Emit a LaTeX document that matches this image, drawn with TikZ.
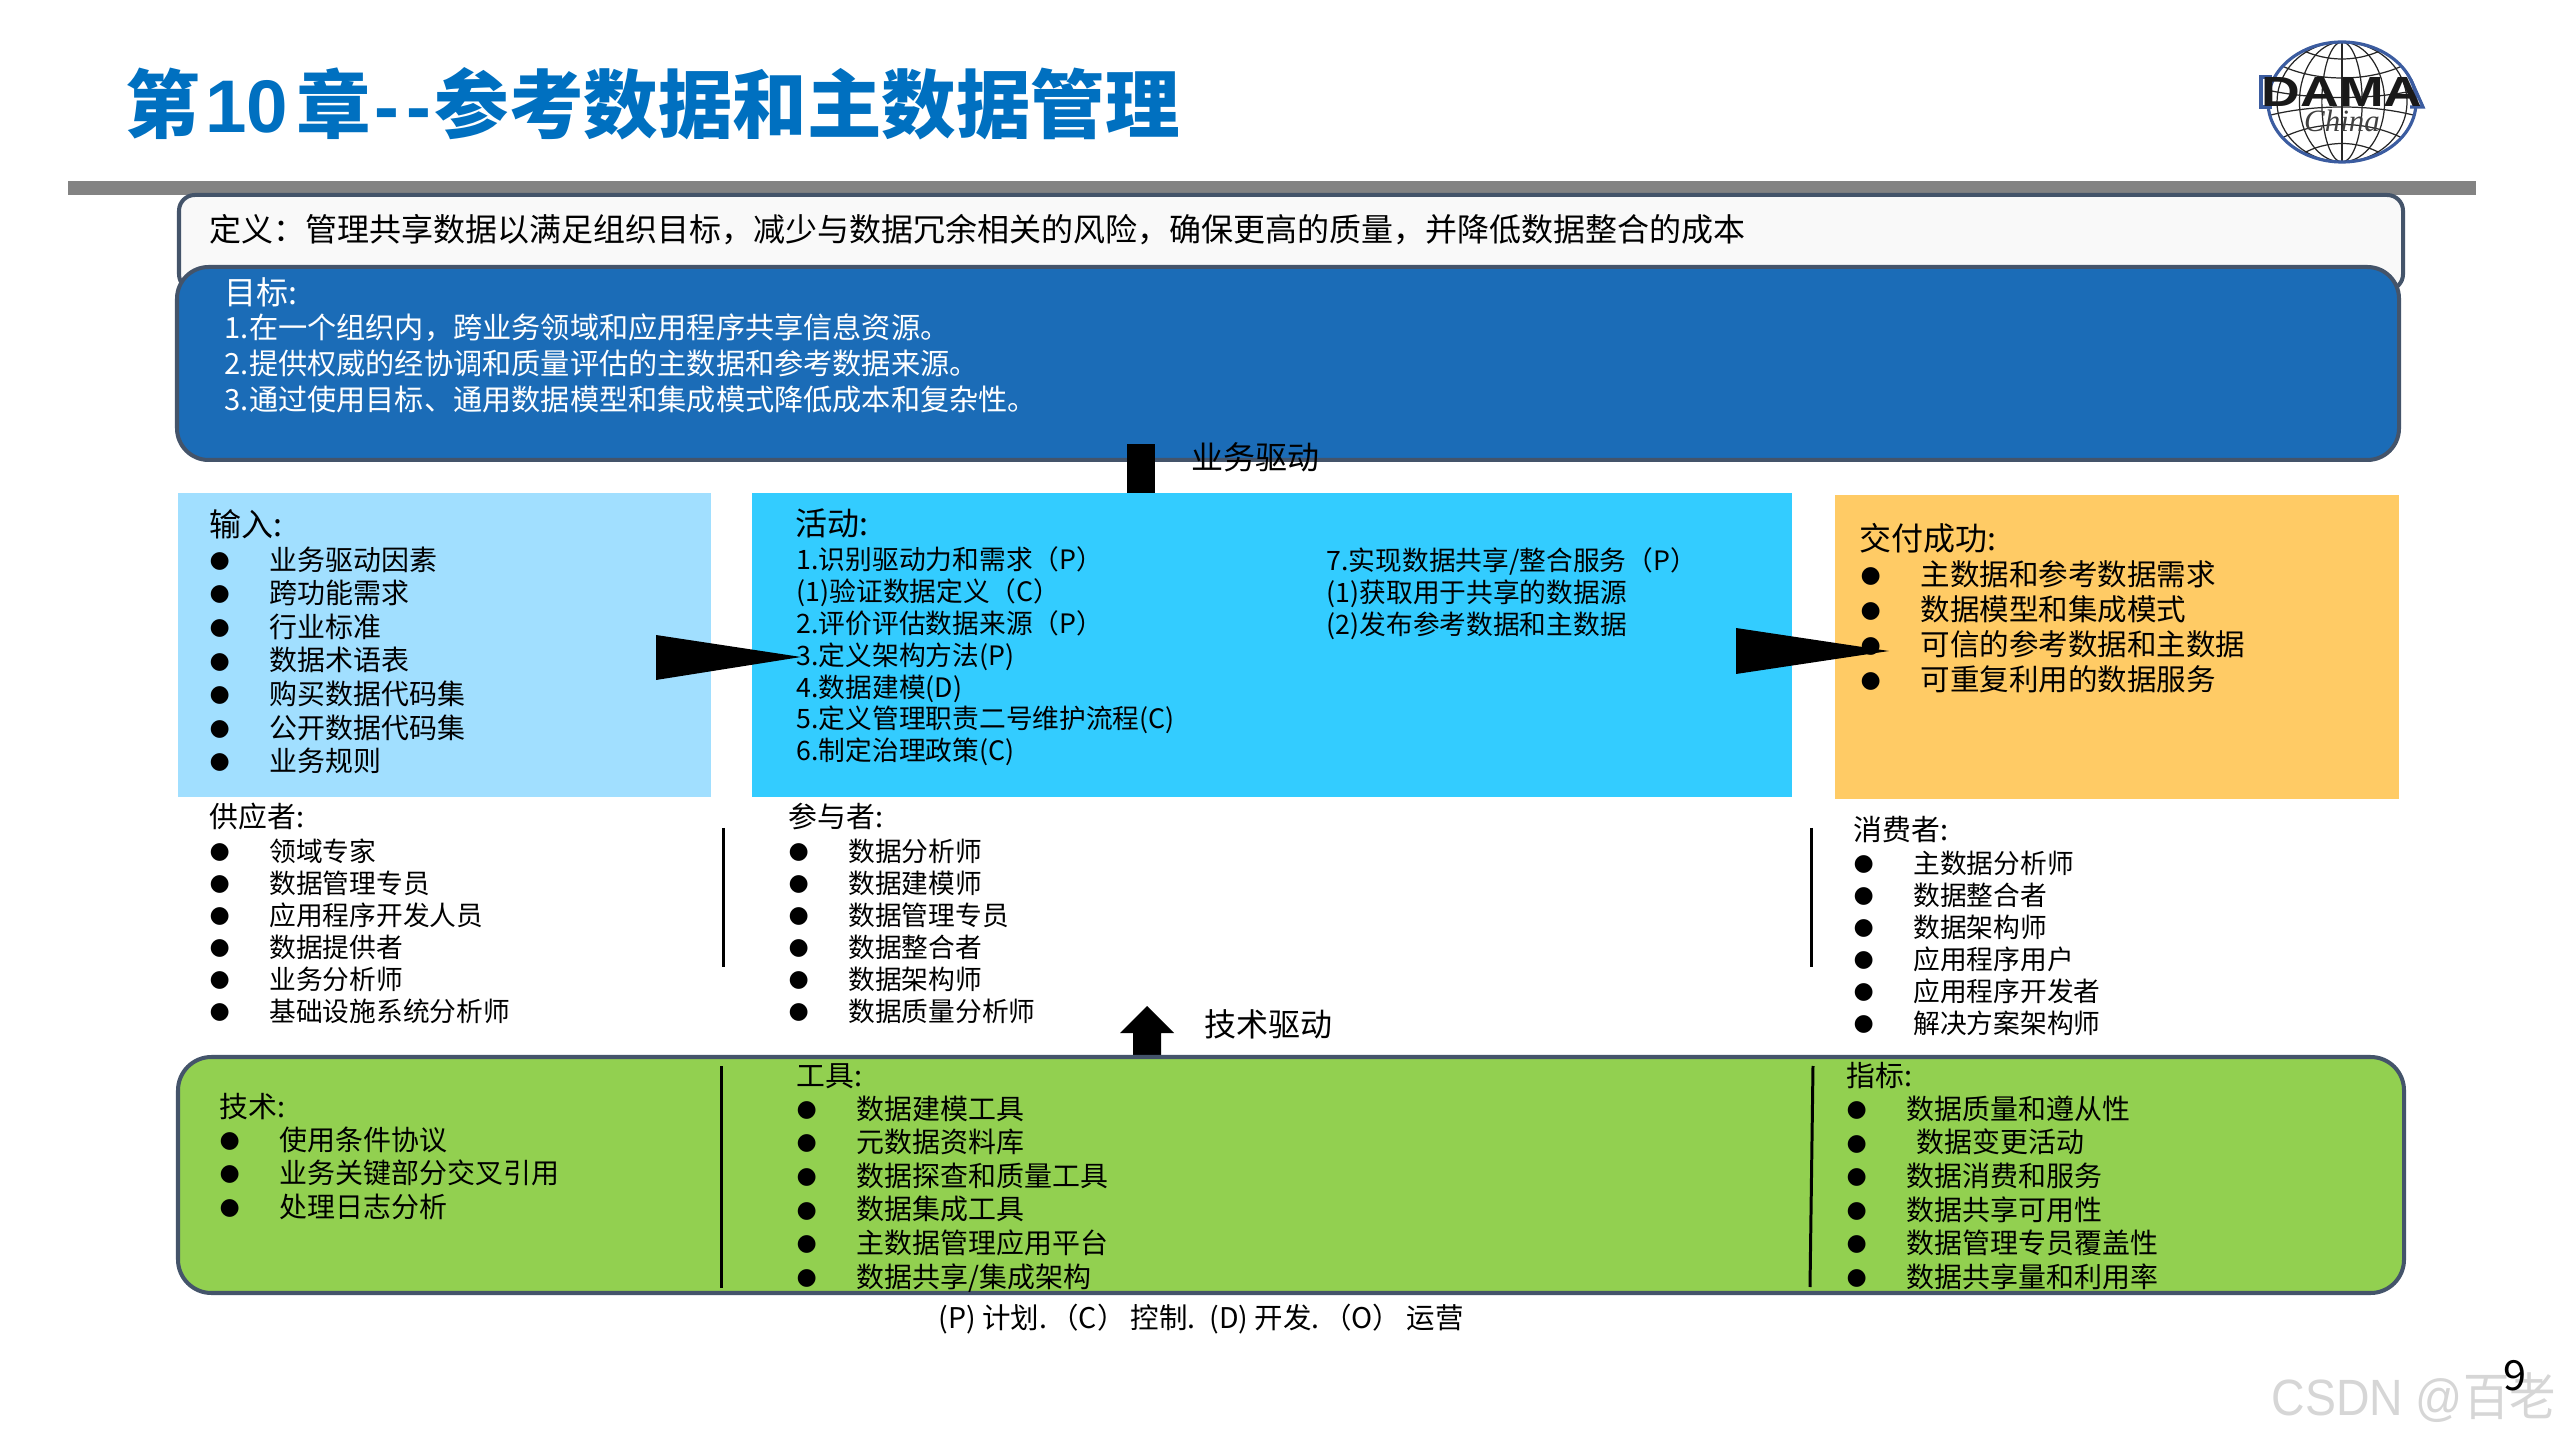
\documentclass[tikz,border=0pt]{standalone}
\usepackage{fontspec}
\usepackage{xcolor}
\setmainfont{Noto Sans CJK SC}
\newfontfamily\symfont{DejaVu Sans}
\newfontfamily\latinfont{Liberation Sans}
\newfontfamily\logoserif{Liberation Serif}
\usetikzlibrary{positioning}
\definecolor{dama-title}{RGB}{0,112,192}
\definecolor{dama-bar}{RGB}{131,131,131}
\definecolor{dama-edge}{RGB}{68,84,106}
\definecolor{dama-paper}{RGB}{249,249,249}
\definecolor{dama-goal}{RGB}{27,108,183}
\definecolor{dama-input}{RGB}{161,223,255}
\definecolor{dama-activity}{RGB}{51,204,255}
\definecolor{dama-deliver}{RGB}{255,203,101}
\definecolor{dama-tools}{RGB}{146,208,80}
\definecolor{dama-logo}{RGB}{59,92,160}
\definecolor{dama-mark}{RGB}{214,214,214}
\newcommand{\itm}[1]{\makebox[17pt][l]{\raisebox{0.8pt}{\symfont\fontsize{6.6}{6.6}\selectfont ●}}#1}
\tikzset{
  paneledge/.style={draw=dama-edge, line width=1.14pt},
  headtext/.style={anchor=west, inner sep=0pt, font=\fontsize{9.1}{11}\selectfont},
  smallhead/.style={anchor=west, inner sep=0pt, font=\fontsize{8.2}{10}\selectfont},
  listtext/.style={anchor=north west, inner sep=0pt, align=left, font=\fontsize{7.95}{9.12}\selectfont},
  suptext/.style={anchor=north west, inner sep=0pt, align=left, font=\fontsize{7.6}{9.12}\selectfont},
  sidebar/.style={line width=0.85pt, black}
}
\begin{document}
\begin{tikzpicture}[x=0.01cm, y=-0.01cm]
  \useasboundingbox (0,0) rectangle (2560,1440);
  \fill[white] (0,0) rectangle (2560,1440);

  % Heading
  \node[anchor=west, inner sep=0pt, text=dama-title, font=\fontsize{21.2}{24}\selectfont\bfseries] (title) at (125,104) {第\hspace{1.5pt}{\latinfont\bfseries 10}\hspace{2.2pt}章\hspace{1pt}{\latinfont\bfseries -{}\hspace{2pt}-}\hspace{1pt}参考数据和主数据管理};
  \fill[dama-bar] (68,181) rectangle (2476,195);

  % Logo
  \begin{scope}[shift={(2342,102)}]
    \begin{scope}
      \clip (0,0) ellipse (74 and 60);
      \foreach \r in {18,38,58} {
        \draw[black!85, line width=0.35pt] (0,0) ellipse (\r*1.12 and 60);
      }
      \draw[black!85, line width=0.35pt] (0,-60) -- (0,60);
      \draw[black!85, line width=0.35pt] (-60,-36) .. controls (-25,-20) and (25,-20) .. (60,-36);
      \draw[black!85, line width=0.35pt] (-75,-12) .. controls (-30,-2) and (30,-2) .. (75,-12);
      \draw[black!85, line width=0.35pt] (-40,-52) .. controls (-15,-40) and (15,-40) .. (40,-52);
      \draw[black!85, line width=0.35pt] (-75,14) .. controls (-30,2) and (30,2) .. (75,14);
      \draw[black!85, line width=0.35pt] (-60,36) .. controls (-25,18) and (25,18) .. (60,36);
      \draw[black!85, line width=0.35pt] (-40,52) .. controls (-15,38) and (15,38) .. (40,52);
    \end{scope}
    \draw[dama-logo, line width=0.9pt] (0,0) ellipse (74 and 60);
    \draw[dama-logo, line width=0.9pt] (-70,-25) -- (-81,-25) -- (-81,5) -- (-70,5);
    \draw[dama-logo, line width=0.9pt] (69,-22) -- (81,5) -- (68,5);
  \end{scope}
  \node[inner sep=0pt, xscale=1.27, font=\latinfont\fontsize{12}{12}\selectfont\bfseries, text=black!90] (logoname) at (2342,92) {DAMA};
  \node[inner sep=0pt, font=\logoserif\fontsize{8.8}{9}\selectfont\itshape, text=black!75] (logochina) at (2342,121) {China};

  % Definition and goals
  \draw[paneledge, fill=dama-paper, rounded corners=4.5pt] (179,195) rectangle (2403,290);
  \node[headtext] (definition) at (209,230) {定义：管理共享数据以满足组织目标，减少与数据冗余相关的风险，确保更高的质量，并降低数据整合的成本};
  \draw[paneledge, fill=dama-goal, rounded corners=9pt] (177,267) rectangle (2399,460);
  \node[headtext, text=white] (goalhead) at (224,292) {目标:};
  \node[anchor=north west, inner sep=0pt, align=left, text=white, font=\fontsize{8.3}{10.24}\selectfont] (goallist) at (224,313) {1.在一个组织内，跨业务领域和应用程序共享信息资源。\\2.提供权威的经协调和质量评估的主数据和参考数据来源。\\3.通过使用目标、通用数据模型和集成模式降低成本和复杂性。};

  % Business drivers
  \fill[black] (1127,444) rectangle (1155,493);
  \node[headtext] (businessdrive) at (1191,457) {业务驱动};

  % Input, activities, deliverables
  \fill[dama-input] (178,493) rectangle (711,797);
  \fill[dama-activity] (752,493) rectangle (1792,797);
  \fill[dama-deliver] (1835,495) rectangle (2399,799);

  \node[headtext] (inputhead) at (209,524) {输入:};
  \node[listtext, font=\fontsize{7.95}{9.55}\selectfont] (inputlist) at (209,546) {\itm{业务驱动因素}\\\itm{跨功能需求}\\\itm{行业标准}\\\itm{数据术语表}\\\itm{购买数据代码集}\\\itm{公开数据代码集}\\\itm{业务规则}};

  \node[headtext] (activityhead) at (795,523) {活动:};
  \node[suptext, font=\fontsize{7.6}{9.06}\selectfont] (activitylist) at (796,546) {1.识别驱动力和需求（P）\\(1)验证数据定义（C）\\2.评价评估数据来源（P）\\3.定义架构方法(P)\\4.数据建模(D)\\5.定义管理职责二号维护流程(C)\\6.制定治理政策(C)};
  \node[suptext] (activitymore) at (1326,547) {7.实现数据共享/整合服务（P）\\(1)获取用于共享的数据源\\(2)发布参考数据和主数据};

  \node[headtext] (deliverhead) at (1859,538) {交付成功:};
  \node[listtext, font=\fontsize{8.4}{9.96}\selectfont] (deliverlist) at (1860,560) {\itm{主数据和参考数据需求}\\\itm{数据模型和集成模式}\\\itm{可信的参考数据和主数据}\\\itm{可重复利用的数据服务}};

  \fill[black] (656,635) -- (801,657) -- (656,680) -- cycle;
  \fill[black] (1736,628) -- (1889,651) -- (1736,674) -- cycle;

  % Suppliers, participants, consumers
  \node[smallhead] (supplierhead) at (209,817) {供应者:};
  \node[suptext] (supplierlist) at (209,838) {\itm{领域专家}\\\itm{数据管理专员}\\\itm{应用程序开发人员}\\\itm{数据提供者}\\\itm{业务分析师}\\\itm{基础设施系统分析师}};
  \draw[sidebar] (723,828) -- (723,967);

  \node[smallhead] (participanthead) at (788,817) {参与者:};
  \node[suptext] (participantlist) at (788,838) {\itm{数据分析师}\\\itm{数据建模师}\\\itm{数据管理专员}\\\itm{数据整合者}\\\itm{数据架构师}\\\itm{数据质量分析师}};
  \draw[sidebar] (1811,828) -- (1811,967);

  \node[smallhead] (consumerhead) at (1853,830) {消费者:};
  \node[suptext] (consumerlist) at (1853,850) {\itm{主数据分析师}\\\itm{数据整合者}\\\itm{数据架构师}\\\itm{应用程序用户}\\\itm{应用程序开发者}\\\itm{解决方案架构师}};

  % Technical drivers
  \fill[black] (1147,1006) -- (1174,1033) -- (1161,1033) -- (1161,1057) -- (1133,1057) -- (1133,1033) -- (1120,1033) -- cycle;
  \node[headtext] (techdrive) at (1204,1024) {技术驱动};

  % Techniques, tools, metrics
  \draw[paneledge, fill=dama-tools, rounded corners=9.5pt] (178,1057) rectangle (2404,1293);
  \node[smallhead] (techhead) at (219,1107) {技术:};
  \node[listtext, font=\fontsize{7.95}{9.53}\selectfont] (techlist) at (219,1126) {\itm{使用条件协议}\\\itm{业务关键部分交叉引用}\\\itm{处理日志分析}};
  \draw[sidebar] (721,1066) -- (721,1288);
  \node[smallhead] (toolhead) at (796,1076) {工具:};
  \node[listtext, font=\fontsize{7.95}{9.55}\selectfont] (toollist) at (796,1095) {\itm{数据建模工具}\\\itm{元数据资料库}\\\itm{数据探查和质量工具}\\\itm{数据集成工具}\\\itm{主数据管理应用平台}\\\itm{数据共享/集成架构}};
  \draw[sidebar] (1813,1066) -- (1810,1287);
  \node[smallhead] (metrichead) at (1846,1076) {指标:};
  \node[listtext, font=\fontsize{7.95}{9.55}\selectfont] (metriclist) at (1846,1095) {\itm{数据质量和遵从性}\\\itm{\hspace{2.8pt}数据变更活动}\\\itm{数据消费和服务}\\\itm{数据共享可用性}\\\itm{数据管理专员覆盖性}\\\itm{数据共享量和利用率}};

  % Legend and corner
  \node[inner sep=0pt, font=\fontsize{8.1}{9}\selectfont] (legend) at (1201,1319) {(P) 计划.\hspace{1pt}（C）\hspace{1.5pt}控制.\hspace{1.5pt} (D) 开发.\hspace{1pt}（O）\hspace{1.5pt}运营};
  \node[inner sep=0pt, text=dama-mark, anchor=west, xscale=0.91, font=\latinfont\fontsize{14.5}{16}\selectfont] (watermark) at (2271,1398) {CSDN @{\rmfamily 百老}};
  \node[inner sep=0pt, font=\fontsize{11.8}{13}\selectfont] (pagenum) at (2515,1376) {9};
\end{tikzpicture}
\end{document}
